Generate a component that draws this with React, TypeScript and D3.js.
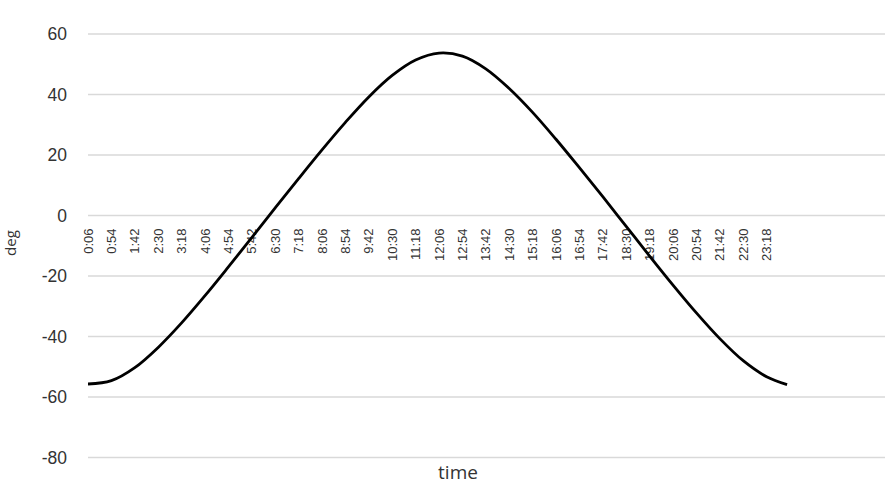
import React, { useEffect, useRef } from "react";
import * as d3 from "d3";

// x tick labels, every 48 minutes
const tickLabels = [
  "0:06", "0:54", "1:42", "2:30", "3:18", "4:06", "4:54", "5:42", "6:30", "7:18",
  "8:06", "8:54", "9:42", "10:30", "11:18", "12:06", "12:54", "13:42", "14:30", "15:18",
  "16:06", "16:54", "17:42", "18:30", "19:18", "20:06", "20:54", "21:42", "22:30", "23:18",
];

// sample times and elevation (deg)
const sampleTimes = [...tickLabels, "24:00"];
const elevation = [
  -55.7, -54.6, -50.3, -43.6, -35.5, -26.5, -17.0, -7.3, 2.5, 12.2,
  21.7, 30.8, 39.2, 46.3, 51.4, 53.7, 52.7, 48.5, 42.0, 34.1,
  25.2, 15.8, 6.2, -3.6, -13.4, -23.0, -32.2, -40.7, -48.0, -53.3,
  -55.9,
];

const yTicks = [60, 40, 20, 0, -20, -40, -60, -80];

const toMinutes = (s: string) => {
  const [h, m] = s.split(":").map(Number);
  return h * 60 + m;
};

export default function App() {
  const ref = useRef<SVGSVGElement>(null);

  useEffect(() => {
    if (!ref.current) return;
    const svg = d3.select(ref.current);
    svg.selectAll("*").remove();

    const left = 88;
    const right = 885;
    const x = d3.scaleLinear().domain([6, 6 + (right - left) / 0.4875]).range([left, right]);
    const y = d3.scaleLinear().domain([-80, 60]).range([457.5, 34]);

    // gridlines
    svg
      .append("g")
      .selectAll("line")
      .data(yTicks)
      .enter()
      .append("line")
      .attr("x1", left)
      .attr("x2", right)
      .attr("y1", (d) => y(d))
      .attr("y2", (d) => y(d))
      .attr("stroke", "#d9d9d9")
      .attr("stroke-width", 1.5);

    // y tick labels
    svg
      .append("g")
      .selectAll("text")
      .data(yTicks)
      .enter()
      .append("text")
      .attr("x", 67)
      .attr("y", (d) => y(d))
      .attr("dy", "0.35em")
      .attr("text-anchor", "end")
      .attr("font-family", "Liberation Sans, Arial, sans-serif")
      .attr("font-size", 17.5)
      .attr("fill", "#333")
      .text((d) => d);

    // x tick labels, rotated, hanging below the zero line
    svg
      .append("g")
      .selectAll("text")
      .data(tickLabels)
      .enter()
      .append("text")
      .attr("transform", (d) => `translate(${x(toMinutes(d))},${y(0) + 13}) rotate(-90)`)
      .attr("dy", "0.35em")
      .attr("text-anchor", "end")
      .attr("font-family", "Liberation Sans, Arial, sans-serif")
      .attr("font-size", 13)
      .attr("fill", "#333")
      .text((d) => d);

    // line
    const pts = sampleTimes.map((t, i) => [toMinutes(t), elevation[i]] as [number, number]);
    const line = d3
      .line<[number, number]>()
      .x((d) => x(d[0]))
      .y((d) => y(d[1]))
      .curve(d3.curveCatmullRom);

    svg
      .append("path")
      .datum(pts)
      .attr("d", line)
      .attr("fill", "none")
      .attr("stroke", "#000")
      .attr("stroke-width", 2.8)
      .attr("stroke-linejoin", "round");

    // axis titles
    svg
      .append("text")
      .attr("transform", "translate(16,243) rotate(-90)")
      .attr("text-anchor", "middle")
      .attr("font-family", "Open Sans, sans-serif")
      .attr("font-size", 15)
      .attr("fill", "#333")
      .text("deg");

    svg
      .append("text")
      .attr("x", 458)
      .attr("y", 479)
      .attr("text-anchor", "middle")
      .attr("font-family", "Open Sans, sans-serif")
      .attr("font-size", 19)
      .attr("fill", "#333")
      .text("time");
  }, []);

  return (
    <svg
      ref={ref}
      width={892}
      height={490}
      style={{ position: "absolute", left: 0, top: 0, background: "#fff" }}
    />
  );
}
